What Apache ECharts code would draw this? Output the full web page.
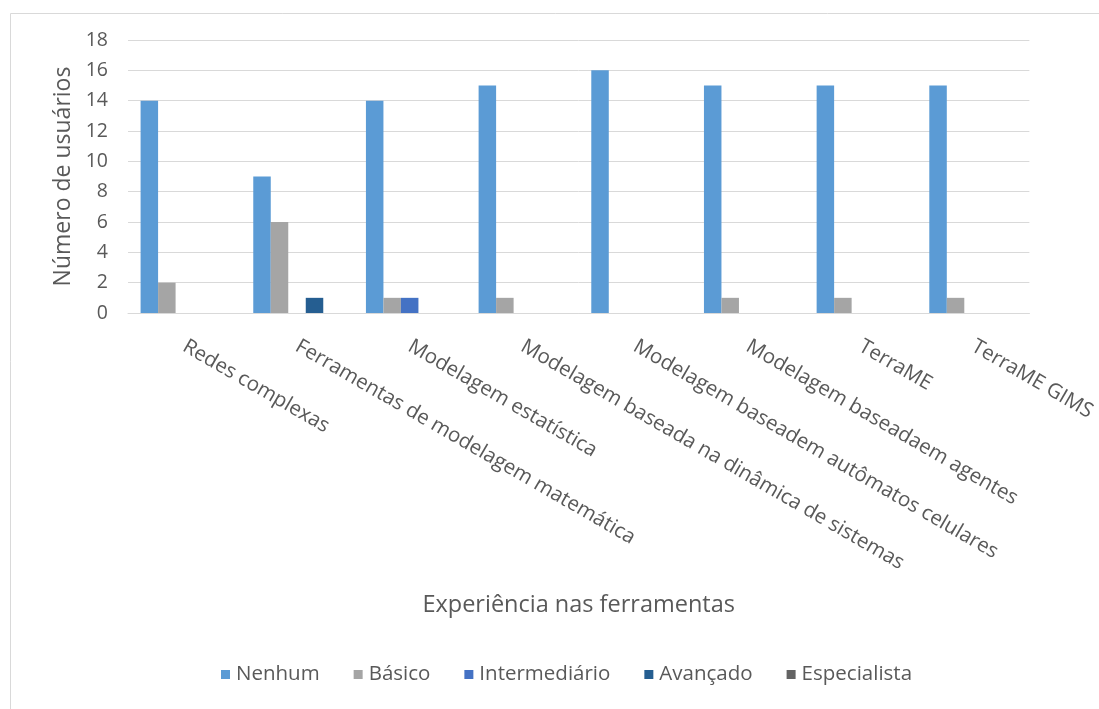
<!DOCTYPE html>
<html>
<head>
<meta charset="utf-8">
<script src="https://cdn.jsdelivr.net/npm/echarts@6/dist/echarts.min.js"></script>
<style>
  html, body { margin: 0; padding: 0; background: #fff; }
  #chart { width: 1099px; height: 709px; }
</style>
</head>
<body>
<div id="chart"></div>
<script>
// Tools surveyed
const categories = [
  'Redes complexas',
  'Ferramentas de modelagem matemática',
  'Modelagem estatística',
  'Modelagem baseada na dinâmica de sistemas',
  'Modelagem baseadem autômatos celulares',
  'Modelagem baseadaem agentes',
  'TerraME',
  'TerraME GIMS'
];

// Number of users per experience level
const nenhum        = [14, 9, 14, 15, 16, 15, 15, 15];
const basico        = [2, 6, 1, 1, 0, 1, 1, 1];
const intermediario = [0, 0, 1, 0, 0, 0, 0, 0];
const avancado      = [0, 1, 0, 0, 0, 0, 0, 0];
const especialista  = [0, 0, 0, 0, 0, 0, 0, 0];

const seriesNames  = ['Nenhum', 'Básico', 'Intermediário', 'Avançado', 'Especialista'];
const seriesValues = [nenhum, basico, intermediario, avancado, especialista];
const seriesColors = ['#5B9BD5', '#A5A5A5', '#4472C4', '#255E91', '#636363'];

const yTicks = { min: 0, max: 18, interval: 2 };

const FONT = 'Open Sans';
const TEXT = '#595959';

const chart = echarts.init(document.getElementById('chart'), null, { renderer: 'canvas' });

chart.setOption({
  animation: false,
  color: seriesColors,
  textStyle: { fontFamily: FONT, color: TEXT },
  graphic: [{
    type: 'rect',
    left: 8, top: 11,
    shape: { width: 1200, height: 800 },
    style: { fill: 'none', stroke: '#d9d9d9', lineWidth: 1 },
    silent: true
  }],
  grid: { left: 128, right: 69, top: 40, bottom: 396, containLabel: false },
  legend: {
    bottom: 19,
    left: 216,
    itemWidth: 9,
    itemHeight: 9,
    itemGap: 34,
    icon: 'rect',
    textStyle: { fontFamily: FONT, fontSize: 20.5, color: TEXT, padding: [0, 0, 0, 1] },
    data: seriesNames
  },
  xAxis: {
    type: 'category',
    data: categories,
    name: 'Experiência nas ferramentas',
    nameLocation: 'middle',
    nameGap: 280,
    nameTextStyle: { fontFamily: FONT, fontSize: 23.5, color: TEXT },
    axisLine: { show: true, lineStyle: { color: '#d9d9d9', width: 1 } },
    axisTick: { show: false },
    axisLabel: {
      interval: 0,
      rotate: -30,
      margin: 32,
      fontFamily: FONT,
      fontSize: 20.5,
      color: TEXT
    }
  },
  yAxis: {
    type: 'value',
    min: yTicks.min,
    max: yTicks.max,
    interval: yTicks.interval,
    name: 'Número de usuários',
    nameLocation: 'middle',
    nameRotate: 90,
    nameGap: 53,
    nameTextStyle: { fontFamily: FONT, fontSize: 23, color: TEXT },
    axisLine: { show: false },
    axisTick: { show: false },
    axisLabel: { margin: 20, fontFamily: FONT, fontSize: 19.5, color: TEXT },
    splitLine: { lineStyle: { color: '#d9d9d9', width: 1 } }
  },
  series: seriesNames.map((name, i) => ({
    name,
    type: 'bar',
    data: seriesValues[i],
    barWidth: 17.5,
    barGap: '0%',
    itemStyle: { color: seriesColors[i] }
  }))
});
</script>
</body>
</html>
